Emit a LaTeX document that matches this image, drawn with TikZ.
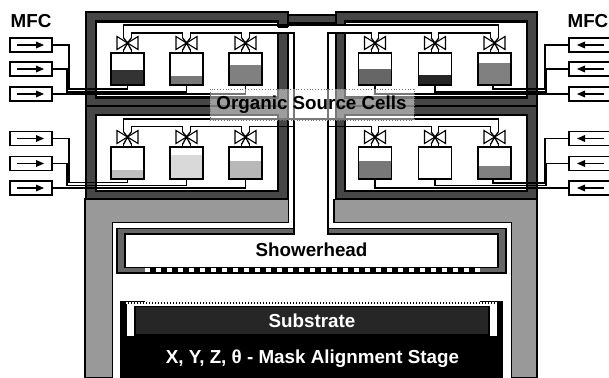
\documentclass[tikz,border=0pt]{standalone}
\usepackage{fontspec}
\setmainfont{Liberation Sans}[BoldFont={Liberation Sans Bold}]
\tikzset{
  band/.style={draw=black,line width=1.2pt,fill=bandgrey},
  inner/.style={draw=black,line width=2.1pt,fill=white},
  pipe/.style={draw=black,line width=1.3pt},
  mfcbox/.style={draw=black,line width=1.4pt,fill=white,minimum width=42pt,minimum height=14pt,inner sep=0pt},
  bottle/.style={draw=black,line width=1.5pt,minimum width=33pt,minimum height=32pt,inner sep=0pt},
  valve/.style={draw=black,line width=1.1pt,fill=white},
  lab/.style={font=\bfseries\fontsize{18.8}{18}\selectfont,inner sep=0pt},
  labw/.style={lab,text=white},
  flowarrow/.style={draw=black,line width=1.1pt}
}
\definecolor{bandgrey}{HTML}{464646}
\definecolor{wall}{HTML}{999999}
\newcommand{\mybottle}[6]{% name, cx, unused, level y, colour, top y
  \node[bottle] (#1) at (#2,#6+16) {};
  \fill[#5] (#2-16,#4) rectangle (#2+16,#6+32);
  \node[bottle] at (#2,#6+16) {};
}
\newcommand{\myvalve}[2]{% cx, valve centre y
  \draw[valve] (#1-10.5,#2-6.5) -- (#1-10.5,#2+6.5) -- (#1,#2) -- cycle;
  \draw[valve] (#1+10.5,#2-6.5) -- (#1+10.5,#2+6.5) -- (#1,#2) -- cycle;
  \draw[pipe] (#1-3.8,#2-5) -- (#1,#2) -- (#1+3.8,#2-5);
  \draw[pipe] (#1-3.8,#2+7) -- (#1,#2) -- (#1+3.8,#2+7);
  \draw[pipe] (#1-3.8,#2+6) -- (#1-3.8,#2+10);
  \draw[pipe] (#1+3.8,#2+6) -- (#1+3.8,#2+10);
  \fill (#1,#2) circle (1.7);
}
\newcommand{\mfcr}[2]{% name, y
  \node[mfcbox] (#1) at (31,#2) {};
  \draw[flowarrow] (17,#2) -- (38,#2);
  \fill (44,#2) -- (36,#2-3.5) -- (36,#2+3.5) -- cycle;
}
\newcommand{\mfcl}[2]{% name, y
  \node[mfcbox] (#1) at (590,#2) {};
  \draw[flowarrow] (604,#2) -- (583,#2);
  \fill (577,#2) -- (585,#2-3.5) -- (585,#2+3.5) -- cycle;
}
\begin{document}
\begin{tikzpicture}[x=1pt,y=-1pt]
\useasboundingbox (0,0) rectangle (609,377);
\fill[white] (0,0) rectangle (609,377);

% lower chamber
\draw[draw=black,line width=1.6pt,fill=wall] (85,199) -- (288.5,199) -- (288.5,222.5) -- (112.5,222.5) -- (112.5,378) -- (85,378) -- cycle;
\draw[draw=black,line width=1.6pt,fill=wall] (334,199) -- (537,199) -- (537,378) -- (511.5,378) -- (511.5,222.5) -- (334,222.5) -- cycle;

% source cell housings
\draw[band] (86,12) rectangle (288,106);
\draw[inner] (96,21.5) rectangle (278,97.5);
\draw[band] (86,106) rectangle (288,199);
\draw[inner] (96,115) rectangle (278,191);
\draw[band] (336,12) rectangle (537,106);
\draw[inner] (345,21.5) rectangle (527,97.5);
\draw[band] (336,106) rectangle (537,199);
\draw[inner] (345,115) rectangle (527,191);
\draw[band,line width=1.8pt] (288,15) rectangle (336,23);
\fill[white] (276.9,27) rectangle (289,33);
\fill[white] (335.2,23.8) rectangle (346.1,33);
\draw[line width=1.3pt] (277.5,27) -- (288,27);
\fill[white] (289,24.2) rectangle (335,120);
\fill[white] (289,120) rectangle (335,199);
\fill[white] (289.3,199) rectangle (333.2,232);

% bottles
\mybottle{a}{127.5}{}{70}{black!80}{53}
\mybottle{b}{186.5}{}{76}{black!53}{53}
\mybottle{c}{245.5}{}{65}{black!50}{53}
\mybottle{d}{127.5}{}{170}{black!25}{147}
\mybottle{e}{186.5}{}{155}{black!15}{147}
\mybottle{f}{245.5}{}{161}{black!28}{147}
\mybottle{g}{375}{}{69}{black!60}{53}
\mybottle{h}{435}{}{75}{black!85}{53}
\mybottle{i}{494.5}{}{63}{black!50}{53}
\mybottle{j}{375}{}{161}{black!53}{147}
\mybottle{k}{435}{}{147}{white}{147}
\mybottle{l}{494.5}{}{166}{black!50}{147}

% MFC units
\mfcr{m1}{45}\mfcr{m2}{69}\mfcr{m3}{94}
\mfcr{m4}{138.5}\mfcr{m5}{163.5}\mfcr{m6}{188}
\mfcl{n1}{45}\mfcl{n2}{69}\mfcl{n3}{94}
\mfcl{n4}{138.5}\mfcl{n5}{163.5}\mfcl{n6}{188}

% carrier gas feed lines
\draw[pipe] (m1.east) -| (69,89) -| (a.south);
\draw[pipe] (m2.east) -| (67,92) -| (b.south);
\draw[pipe] (m3.east) -| (c.south);
\draw[pipe] (m4.east) -| (69,182.7) -| (d.south);
\draw[pipe] (m5.east) -| (67,185.7) -| (e.south);
\draw[pipe] (m6.east) -| (f.south);
\draw[pipe] (n1.west) -| (545,89) -- (493,89) -- (493,85);
\draw[pipe] (n2.west) -| (546,92) -| (h.south);
\draw[pipe] (n3.west) -| (g.south);
\draw[pipe] (n4.west) -| (545,183) -- (493,183) -- (493,179);
\draw[pipe] (n5.west) -| (546,185.5) -| (k.south);
\draw[pipe] (n6.west) -| (j.south);

% manifold lines, top row
\draw[pipe] (123.7,38) -- (123.7,25) -- (498.3,25) -- (498.3,38);
\draw[pipe] (131.3,38) -- (131.3,33) -- (182.7,33) -- (182.7,38);
\draw[pipe] (190.3,38) -- (190.3,33) -- (241.7,33) -- (241.7,38);
\draw[pipe] (249.3,38) -- (249.3,33) -- (294,33) -- (294,234);
\draw[pipe] (328,234) -- (328,33) -- (371.2,33) -- (371.2,38);
\draw[pipe] (378.8,38) -- (378.8,33) -- (431.2,33) -- (431.2,38);
\draw[pipe] (438.8,38) -- (438.8,33) -- (490.7,33) -- (490.7,38);
% manifold lines, bottom row
\draw[pipe] (123.7,132) -- (123.7,119) -- (498.3,119) -- (498.3,132);
\draw[pipe] (131.3,132) -- (131.3,126.5) -- (182.7,126.5) -- (182.7,132);
\draw[pipe] (190.3,132) -- (190.3,126.5) -- (241.7,126.5) -- (241.7,132);
\draw[pipe] (249.3,132) -- (249.3,126.5) -- (294,126.5);
\draw[pipe] (328,126.5) -- (371.2,126.5) -- (371.2,132);
\draw[pipe] (378.8,132) -- (378.8,126.5) -- (431.2,126.5) -- (431.2,132);
\draw[pipe] (438.8,132) -- (438.8,126.5) -- (490.7,126.5) -- (490.7,132);

% valves
\foreach \vx in {127.5,186.5,245.5,375,435,494.5}{\myvalve{\vx}{43}\myvalve{\vx}{137}}

% label overlay
\fill[white,opacity=.47] (210,89) rectangle (414,120);
\draw[black!55,line width=.8pt,dotted] (210,89) rectangle (414,120);
\node[lab] (src) at (311.5,104.5) {Organic Source Cells};

% showerhead
\draw[draw=black,line width=1.3pt,fill=black!60] (117,228.5) rectangle (506,273);
\draw[draw=black,line width=1.8pt,fill=white] (125,234) rectangle (498,267.5);
\fill[white] (294.7,227) rectangle (327.3,235.2);
\draw[pipe] (294,227.5) -- (294,234);
\draw[pipe] (328,227.5) -- (328,234);
\fill[black] (145,267) rectangle (480,272.8);
\draw[white,line width=4.2pt,dash pattern=on 4.6pt off 6.4pt] (145,269.8) -- (480,269.8);
\node[lab] (shw) at (311.5,250) {Showerhead};

% stage
\fill[black] (120,301) rectangle (503,378);
\fill[white] (145,299) rectangle (480,302);
\fill[white] (126.5,304) rectangle (497,336);
\draw[white,line width=1.6pt,dash pattern=on 1.5pt off 1.5pt] (126,303.2) -- (497,303.2);
\draw[draw=black,line width=1.3pt,fill=black!85] (135,306.5) rectangle (489,335);
\node[labw] (sub) at (312,321) {Substrate};
\node[labw] (stg) at (312.5,359) {X, Y, Z, θ - Mask Alignment Stage};

% MFC captions
\node[lab,anchor=west] (t1) at (10.5,21) {MFC};
\node[lab,anchor=east] (t2) at (608.5,21) {MFC};
\end{tikzpicture}
\end{document}
